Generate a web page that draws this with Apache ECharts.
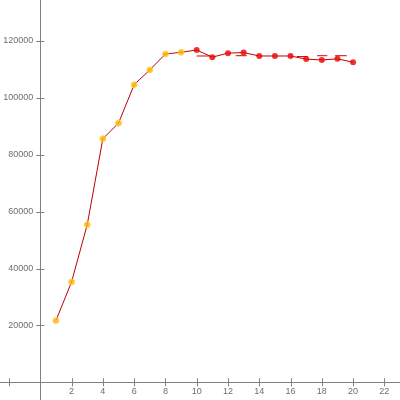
<!DOCTYPE html>
<html><head><meta charset="utf-8">
<script src="https://cdn.jsdelivr.net/npm/echarts@6/dist/echarts.min.js"></script>
<style>html,body{margin:0;padding:0;background:#fff}#c{width:400px;height:400px}</style>
</head><body><div id="c"></div>
<script>
var xs = [1,2,3,4,5,6,7,8,9,10,11,12,13,14,15,16,17,18,19,20];
var ys = [21700,35300,55400,85600,91100,104600,109800,115400,116000,116800,114300,115700,115900,114700,114700,114700,113600,113300,113700,112500];
var orangeCount = 9;
// short horizontal marks near the plateau: [xStart, xEnd, y]
var capStart = [10.0, 12.5, 16.4, 17.7, 18.85];
var capEnd   = [10.9, 13.2, 17.1, 18.35, 19.6];
var capY     = [114700, 114800, 114500, 114800, 114800];
var xTicks = [-2,2,4,6,8,10,12,14,16,18,20,22];
var xLabels = [2,4,6,8,10,12,14,16,18,20,22];
var yTicks = [20000,40000,60000,80000,100000,120000];

var lineData = xs.map(function(x,i){return [x, ys[i]];});
var orangeData = lineData.slice(0, orangeCount);
var redData = lineData.slice(orangeCount);
var capData = capStart.map(function(s,i){return [s, capEnd[i], capY[i]];});
var xTickData = xTicks.map(function(v){return [v, 0];});
var yTickData = yTicks.map(function(v){return [0, v];});

var axisCol = '#808080';
var lblStyle = {color:'#6e6e6e', fontSize:9, fontFamily:'Liberation Sans'};
var XMIN=-2.577, XMAX=23, YMIN=-6221, YMAX=134380;
function fmt(v){ return String(Math.round(v)); }
var chart = echarts.init(document.getElementById('c'), null, {renderer:'canvas'});
chart.setOption({
  animation:false,
  backgroundColor:'#ffffff',
  grid:[
    {left:0, right:0, top:0, bottom:0, containLabel:false, outerBoundsMode:'none'},
    {left:40.3, right:0, top:0, bottom:17.7, containLabel:false}
  ],
  xAxis:[{
    gridIndex:0, type:'value', min:XMIN, max:XMAX,
    axisLine:{show:true, onZero:true, onZeroAxisIndex:0, lineStyle:{color:axisCol, width:1}},
    axisTick:{show:false}, axisLabel:{show:false}, splitLine:{show:false}
  }, {
    gridIndex:1, type:'value', min:0, max:XMAX, position:'bottom',
    axisLine:{show:false}, axisTick:{show:false}, splitLine:{show:false},
    axisLabel:Object.assign({show:true, margin:5, customValues:xLabels, formatter:fmt}, lblStyle)
  }],
  yAxis:[{
    gridIndex:0, type:'value', min:YMIN, max:YMAX,
    axisLine:{show:true, onZero:true, onZeroAxisIndex:0, lineStyle:{color:axisCol, width:1}},
    axisTick:{show:false}, axisLabel:{show:false}, splitLine:{show:false}
  }, {
    gridIndex:1, type:'value', min:0, max:YMAX, position:'left',
    axisLine:{show:false}, axisTick:{show:false}, splitLine:{show:false},
    axisLabel:Object.assign({show:true, margin:7, customValues:yTicks, formatter:fmt}, lblStyle)
  }],
  series:[
    {type:'line', xAxisIndex:0, yAxisIndex:0, data:lineData, showSymbol:false, lineStyle:{color:'#c00000', width:1}, z:2},
    {type:'custom', xAxisIndex:0, yAxisIndex:0, data:xTickData, z:1, silent:true,
      renderItem:function(params, api){
        var p = api.coord([api.value(0), api.value(1)]);
        var x = Math.round(p[0]) + 0.5;
        return {type:'line', shape:{x1:x, y1:p[1]-4, x2:x, y2:p[1]+4}, style:{stroke:axisCol, lineWidth:1}};
      }},
    {type:'custom', xAxisIndex:0, yAxisIndex:0, data:yTickData, z:1, silent:true,
      renderItem:function(params, api){
        var p = api.coord([api.value(0), api.value(1)]);
        var y = Math.round(p[1]) + 0.5;
        return {type:'line', shape:{x1:p[0]-4, y1:y, x2:p[0]+4, y2:y}, style:{stroke:axisCol, lineWidth:1}};
      }},
    {type:'custom', xAxisIndex:0, yAxisIndex:0, data:capData, z:3,
      renderItem:function(params, api){
        var a = api.coord([api.value(0), api.value(2)]);
        var b = api.coord([api.value(1), api.value(2)]);
        return {type:'line', shape:{x1:a[0], y1:a[1], x2:b[0], y2:b[1]}, style:{stroke:'#e00000', lineWidth:1}};
      }},
    {type:'scatter', xAxisIndex:0, yAxisIndex:0, data:orangeData, symbol:'circle', symbolSize:6, z:4,
      itemStyle:{color:'#ffb400', borderColor:'#ffd24a', borderWidth:1}},
    {type:'scatter', xAxisIndex:0, yAxisIndex:0, data:redData, symbol:'circle', symbolSize:6, z:4,
      itemStyle:{color:'#ee0000', borderColor:'#ee0000', borderWidth:0}}
  ]
});
</script></body></html>
